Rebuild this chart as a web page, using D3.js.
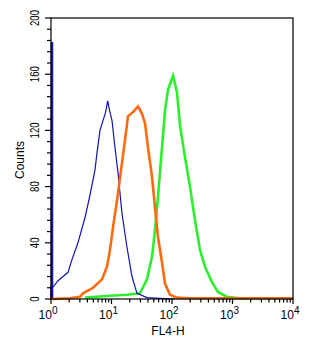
<!DOCTYPE html>
<html>
<head>
<meta charset="utf-8">
<script src="https://cdn.jsdelivr.net/npm/d3@7"></script>
<style>
  body { margin: 0; background: #fff; }
  text { font-family: "Liberation Sans", Arial, sans-serif; fill: #000; }
</style>
</head>
<body>
<svg id="chart" width="324" height="350"></svg>
<script>
// histogram traces: [FL4-H value, counts]
var blueEdge = 183;
var blueData = [[1.0,0],[1.0,9],[1.08,8.5],[1.31,13],[1.58,16],[1.91,19],[2.22,28],[2.79,40],[3.65,58],[4.41,74],
    [5.34,92],[5.76,104],[6.45,120],[7.24,127],[8.0,133],[8.65,141],[9.3,134],[10.2,127],[11.4,108],[12.8,90],
    [14.9,61],[18.0,37],[21.8,16],[26.4,4],[38.6,1],[63.4,0.5],[112,0]];
var orangeData = [[1,0],[2.06,0.5],[3.01,1.5],[3.38,4],[4.95,8],[6.97,14],[8.43,23],[9.44,35],[10.6,51],[12.8,75],
    [14.9,97],[16.7,113],[18.7,130],[22.6,133],[27.4,137],[31.9,132],[35.8,125],[40.1,108],[46.7,87],[52.4,65],
    [58.7,44],[68.4,26],[76.6,11],[92.7,3],[121,1],[198,0.5],[10000,0.5]];
var greenData = [[3.65,1],[9.44,2.3],[18.0,3],[29.5,4],[38.6,14],[46.7,30],[52.4,49],[58.7,73],[68.4,108],[76.6,134],
    [85.9,149],[104,159],[121,147],[136,123],[164,101],[198,80],[240,56],[290,35],[351,23],[458,12],[576,5],
    [811,1.5],[1330,0.5],[3000,0.5]];
var yTicks = [0, 40, 80, 120, 160, 200];
var xDecades = [0, 1, 2, 3, 4];

var margins = {left: 51, top: 18, right: 31, bottom: 51};
var width = 324, height = 350;
var svg = d3.select("#chart");

var xScale = d3.scaleLog().domain([1, 10000]).range([margins.left, width - margins.right]);
var yScale = d3.scaleLinear().domain([0, 200]).range([height - margins.bottom, margins.top]);

var line = d3.line()
    .x(d => xScale(d[0]))
    .y(d => yScale(d[1]));

// traces
svg.append("path")
    .attr("d", line(greenData))
    .attr("fill", "none")
    .attr("stroke", "#2cf02c")
    .attr("stroke-width", 2.6);

svg.append("path")
    .attr("d", line(blueData))
    .attr("fill", "none")
    .attr("stroke", "#1212b0")
    .attr("stroke-width", 1.2);

svg.append("line")
    .attr("x1", xScale(1) + 1).attr("x2", xScale(1) + 1)
    .attr("y1", yScale(0)).attr("y2", yScale(blueEdge))
    .attr("stroke", "#1212b0")
    .attr("stroke-width", 2.5);

svg.append("path")
    .attr("d", line(orangeData))
    .attr("fill", "none")
    .attr("stroke", "#ff6a10")
    .attr("stroke-width", 2.6);

// frame
svg.append("rect")
    .attr("x", margins.left)
    .attr("y", margins.top)
    .attr("width", width - margins.left - margins.right)
    .attr("height", height - margins.top - margins.bottom)
    .attr("fill", "none")
    .attr("stroke", "#000")
    .attr("stroke-width", 1.2);

// y axis ticks
var yMinor = d3.range(0, 201, 8);
svg.append("g").selectAll("line")
    .data(yMinor)
    .join("line")
    .attr("x1", d => margins.left - (d % 40 === 0 ? 6 : 4))
    .attr("x2", margins.left)
    .attr("y1", d => yScale(d))
    .attr("y2", d => yScale(d))
    .attr("stroke", "#000")
    .attr("stroke-width", 1.2);

svg.append("g").selectAll("text")
    .data(yTicks)
    .join("text")
    .attr("transform", d => "translate(" + 38.5 + "," + yScale(d) + ") rotate(-90) scale(0.8,1.1)")
    .attr("text-anchor", "middle")
    .attr("font-size", 12)
    .text(d => d);

svg.append("text")
    .attr("transform", "translate(" + 24 + "," + 160 + ") rotate(-90)")
    .attr("text-anchor", "middle")
    .attr("font-size", 12)
    .text("Counts");

// x axis ticks (log decades with 2..9 minors)
var xMinor = [];
xDecades.forEach(function(e) {
    if (e < 4) d3.range(1, 10).forEach(m => xMinor.push(m * Math.pow(10, e)));
});
xMinor.push(10000);
svg.append("g").selectAll("line")
    .data(xMinor)
    .join("line")
    .attr("x1", d => xScale(d))
    .attr("x2", d => xScale(d))
    .attr("y1", yScale(0))
    .attr("y2", d => yScale(0) + (Math.abs(Math.log10(d) % 1) < 1e-9 ? 5 : 3.5))
    .attr("stroke", "#000")
    .attr("stroke-width", 1.2);

var xLabels = svg.append("g").selectAll("text")
    .data(xDecades)
    .join("text")
    .attr("x", d => xScale(Math.pow(10, d)) - 0.5)
    .attr("y", 319)
    .attr("text-anchor", "end")
    .attr("font-size", 12);
xLabels.append("tspan").text("10");
xLabels.append("tspan")
    .attr("dy", -5)
    .attr("font-size", 10)
    .text(d => d);
// shift so the superscript sits just right of the tick
xLabels.attr("transform", "translate(7,0)");

svg.append("text")
    .attr("x", 168)
    .attr("y", 335)
    .attr("text-anchor", "middle")
    .attr("font-size", 12)
    .text("FL4-H");
</script>
</body>
</html>
